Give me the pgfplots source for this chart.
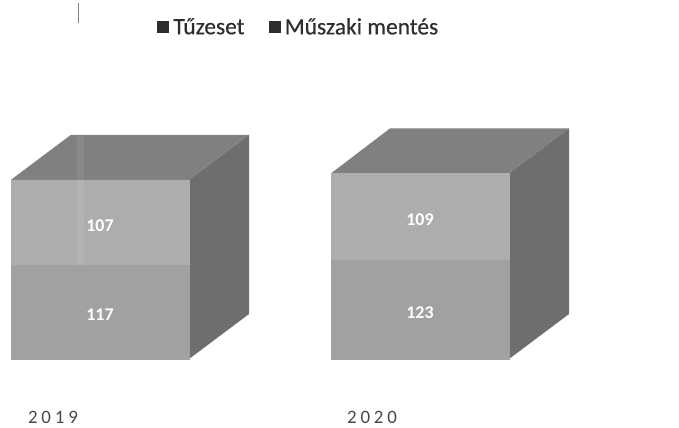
\documentclass[border=0pt]{standalone}
\usepackage{pgfplots}
\usepackage{pgfplotstable}
\usepackage{fontspec}
\setmainfont{Carlito}
\pgfplotsset{compat=1.18}
\pgfplotstableread{
x tuzeset muszaki
100 117 107
420 123 109
}\bars
\pgfplotsset{base/.style={
  at={(0,20bp)},anchor=south west,scale only axis,width=679bp,height=408bp,
  xmin=0,xmax=679,ymin=-61.25,ymax=448.75,
  axis line style={draw=none},ytick=\empty,clip=false}}
\begin{document}
\begin{tikzpicture}
\useasboundingbox (0,0) rectangle (679bp,428bp);
% side and top faces (depth 60 x-units, 56.25 y-units)
\begin{axis}[base,xtick=\empty]
\addplot[draw=none,fill=black!57] coordinates {(189,0)(249,56.25)(249,280.25)(189,224)} --cycle;
\addplot[draw=none,fill=black!50] coordinates {(11,224)(71,280.25)(249,280.25)(189,224)} --cycle;
\addplot[draw=none,fill=black!57] coordinates {(509,0)(569,56.25)(569,288.25)(509,232)} --cycle;
\addplot[draw=none,fill=black!50] coordinates {(331,232)(390,288.25)(569,288.25)(509,232)} --cycle;
\end{axis}
% front faces
\begin{axis}[base,ybar stacked,bar width=178,
  xtick={53,372},xticklabels={2019,2020},
  major tick length=0pt,
  xticklabel style={font=\fontsize{19}{19}\selectfont\addfontfeatures{LetterSpace=20},text=black!72,inner sep=0pt,anchor=center,yshift=-9.5bp},
  legend columns=2,
  legend image code/.code={\fill[black!82] (0bp,-5.5bp) rectangle (11bp,5.5bp);},
  legend style={at={(157bp,408bp-27bp)},anchor=west,draw=none,fill=none,inner sep=0pt,
    font=\fontsize{23.5}{23.5}\selectfont\addfontfeatures{FakeBold=0.5},text=black!82,
    /tikz/every even column/.append style={column sep=22bp}},
  legend cell align=left,
  nodes near coords,
  /pgf/number format/assume math mode=true,
  every node near coord/.append style={font=\fontsize{18}{18}\selectfont\bfseries,text=white,anchor=center},
]
\addplot[draw=black!37,line width=0.2pt,fill=black!37,
  every node near coord/.append style={yshift=-2.5bp}] table[x=x,y=tuzeset] {\bars};
\addplot[draw=black!32,line width=0.2pt,fill=black!32,
  every node near coord/.append style={yshift=-3bp}] table[x=x,y=muszaki] {\bars};
\legend{\hspace{3bp}Tűzeset,\hspace{3bp}Műszaki mentés}
\end{axis}
% faint scanner marks
\begin{axis}[base,xtick=\empty]
\addplot[draw=none,fill=white,fill opacity=0.08] coordinates {(77,117.5)(84,117.5)(84,280)(77,280)} --cycle;
\addplot[black!50,line width=0.7pt] coordinates {(78,445)(78,420)};
\end{axis}
\end{tikzpicture}
\end{document}
